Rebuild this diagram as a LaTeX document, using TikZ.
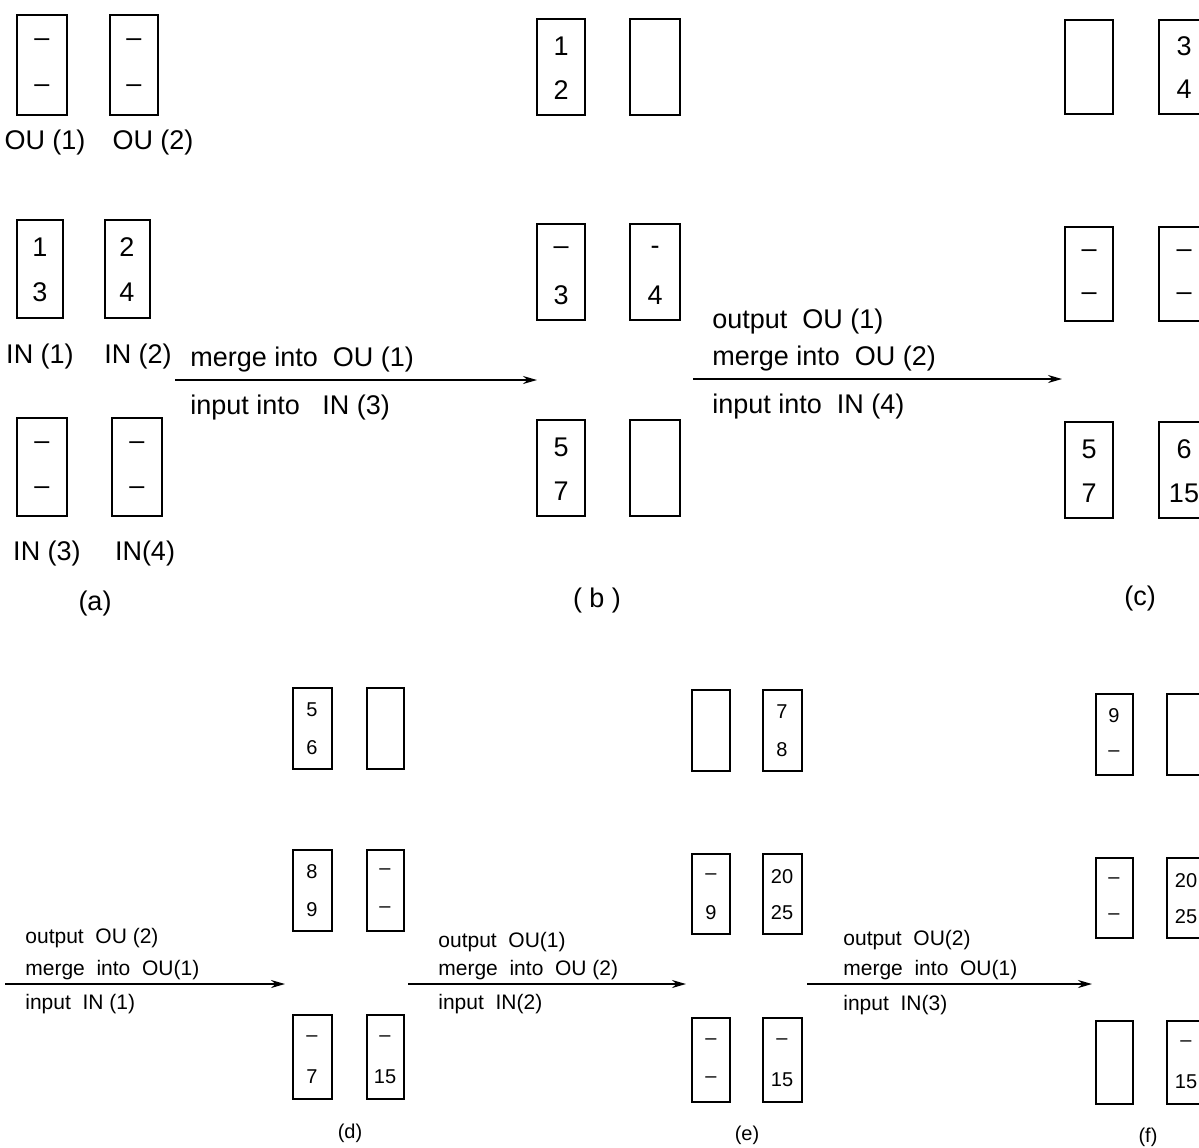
\documentclass[tikz,border=0pt]{standalone}
\usepackage{fontspec}
\setmainfont{Liberation Sans}
\usetikzlibrary{calc,arrows.meta}
\newcommand{\bufcell}[8]{% style, name, cx, cy, w, h, top, bottom
  \node[buf, minimum width={#5*0.5pt}, minimum height={#6*0.5pt}] (#2) at (#3,#4) {};
  \node[#1] (#2t) at ($(#2.north)+(0,{0.29*#6})$) {#7};
  \node[#1] (#2b) at ($(#2.north)+(0,{0.75*#6})$) {#8};
}
\begin{document}
\begin{tikzpicture}[x=0.5pt,y=-0.5pt,
  buf/.style={draw, line width=1pt, inner sep=0pt, rectangle},
  bigent/.style={inner sep=0pt, font=\fontsize{13.5}{15}\selectfont},
  smallent/.style={inner sep=0pt, font=\fontsize{10}{12}\selectfont},
  bigtxt/.style={inner sep=0pt, anchor=west, font=\fontsize{13.5}{15}\selectfont},
  smalltxt/.style={inner sep=0pt, anchor=west, font=\fontsize{10.5}{12}\selectfont},
  biglab/.style={inner sep=0pt, font=\fontsize{13.5}{15}\selectfont},
  smalllab/.style={inner sep=0pt, font=\fontsize{10}{12}\selectfont},
  flow/.style={line width=0.8pt, -{Stealth[length=7pt,width=4pt]}}]
\useasboundingbox (0,0) rectangle (1199,1147);
\fill[white] (0,0) rectangle (1199,1147);
% ---------- (a)
\bufcell{bigent}{aou1}{42}{65}{50}{100}{--}{--}
\bufcell{bigent}{aou2}{134}{65}{48}{100}{--}{--}
\bufcell{bigent}{ain1}{40}{269}{46}{98}{1}{3}
\bufcell{bigent}{ain2}{127}{269}{45}{98}{2}{4}
\bufcell{bigent}{ain3}{42}{467}{50}{98}{--}{--}
\bufcell{bigent}{ain4}{137}{467}{50}{98}{--}{--}
\node[biglab] (laou1) at (45,143) {OU (1)};
\node[biglab] (laou2) at (153,143) {OU (2)};
\node[biglab] (lain1) at (40,357) {IN (1)};
\node[biglab] (lain2) at (138,357) {IN (2)};
\node[biglab] (lain3) at (47,553) {IN (3)};
\node[biglab] (lain4) at (145,553) {IN(4)};
\node[biglab] (capa) at (95,603) {(a)};
% ---------- (b)
\bufcell{bigent}{bou1}{561}{67}{48}{96}{1}{2}
\bufcell{bigent}{bou2}{655}{67}{50}{96}{}{}
\bufcell{bigent}{bin1}{561}{272}{48}{96}{--}{3}
\bufcell{bigent}{bin2}{655}{272}{50}{96}{-}{4}
\bufcell{bigent}{bin3}{561}{468}{48}{96}{5}{7}
\bufcell{bigent}{bin4}{655}{468}{50}{96}{}{}
\node[biglab] (capb) at (597,600) {( b )};
% ---------- (c)
\bufcell{bigent}{cou1}{1089}{67}{48}{94}{}{}
\bufcell{bigent}{cou2}{1184}{67}{50}{94}{3}{4}
\bufcell{bigent}{cin1}{1089}{274}{48}{94}{--}{--}
\bufcell{bigent}{cin2}{1184}{274}{50}{94}{--}{--}
\bufcell{bigent}{cin3}{1089}{470}{48}{96}{5}{7}
\bufcell{bigent}{cin4}{1184}{470}{50}{96}{6}{15}
\node[biglab] (capc) at (1140,598) {(c)};
% ---------- arrows top
\coordinate (s1) at (175,380); \coordinate (e1) at (537,380);
\draw[flow] (s1) -- (e1);
\node[bigtxt] (t1a) at (190,360) {merge into~~OU (1)};
\node[bigtxt] (t1b) at (190,408) {input into~~~IN (3)};
\coordinate (s2) at (693,379); \coordinate (e2) at (1062,379);
\draw[flow] (s2) -- (e2);
\node[bigtxt] (t2a) at (712,322) {output~~OU (1)};
\node[bigtxt] (t2b) at (712,359) {merge into~~OU (2)};
\node[bigtxt] (t2c) at (712,407) {input into~~IN (4)};
% ---------- (d)
\bufcell{smallent}{dou1}{312}{728}{39}{81}{5}{6}
\bufcell{smallent}{dou2}{385}{728}{37}{81}{}{}
\bufcell{smallent}{din1}{312}{890}{39}{81}{8}{9}
\bufcell{smallent}{din2}{385}{890}{37}{81}{--}{--}
\bufcell{smallent}{din3}{312}{1057}{39}{84}{--}{7}
\bufcell{smallent}{din4}{385}{1057}{37}{84}{--}{15}
\node[smalllab] (capd) at (350,1133) {(d)};
% ---------- (e)
\bufcell{smallent}{eou1}{711}{730}{38}{81}{}{}
\bufcell{smallent}{eou2}{782}{730}{39}{81}{7}{8}
\bufcell{smallent}{ein1}{711}{894}{38}{80}{--}{9}
\bufcell{smallent}{ein2}{782}{894}{39}{80}{20}{25}
\bufcell{smallent}{ein3}{711}{1060}{38}{84}{--}{--}
\bufcell{smallent}{ein4}{782}{1060}{39}{84}{--}{15}
\node[smalllab] (cape) at (747,1135) {(e)};
% ---------- (f)
\bufcell{smallent}{fou1}{1114}{734}{37}{81}{9}{--}
\bufcell{smallent}{fou2}{1186}{734}{38}{81}{}{}
\bufcell{smallent}{fin1}{1114}{898}{37}{80}{--}{--}
\bufcell{smallent}{fin2}{1186}{898}{38}{80}{20}{25}
\bufcell{smallent}{fin3}{1114}{1062}{37}{83}{}{}
\bufcell{smallent}{fin4}{1186}{1062}{38}{83}{--}{15}
\node[smalllab] (capf) at (1148,1137) {(f)};
% ---------- arrows bottom
\coordinate (s3) at (5,984); \coordinate (e3) at (285,984);
\draw[flow] (s3) -- (e3);
\node[smalltxt] (t3a) at (25,938) {output~~OU (2)};
\node[smalltxt] (t3b) at (25,970) {merge~~into~~OU(1)};
\node[smalltxt] (t3c) at (25,1004) {input~~IN (1)};
\coordinate (s4) at (408,984); \coordinate (e4) at (686,984);
\draw[flow] (s4) -- (e4);
\node[smalltxt] (t4a) at (438,942) {output~~OU(1)};
\node[smalltxt] (t4b) at (438,970) {merge~~into~~OU (2)};
\node[smalltxt] (t4c) at (438,1004) {input~~IN(2)};
\coordinate (s5) at (807,984); \coordinate (e5) at (1092,984);
\draw[flow] (s5) -- (e5);
\node[smalltxt] (t5a) at (843,940) {output~~OU(2)};
\node[smalltxt] (t5b) at (843,970) {merge~~into~~OU(1)};
\node[smalltxt] (t5c) at (843,1005) {input~~IN(3)};
\end{tikzpicture}
\end{document}
